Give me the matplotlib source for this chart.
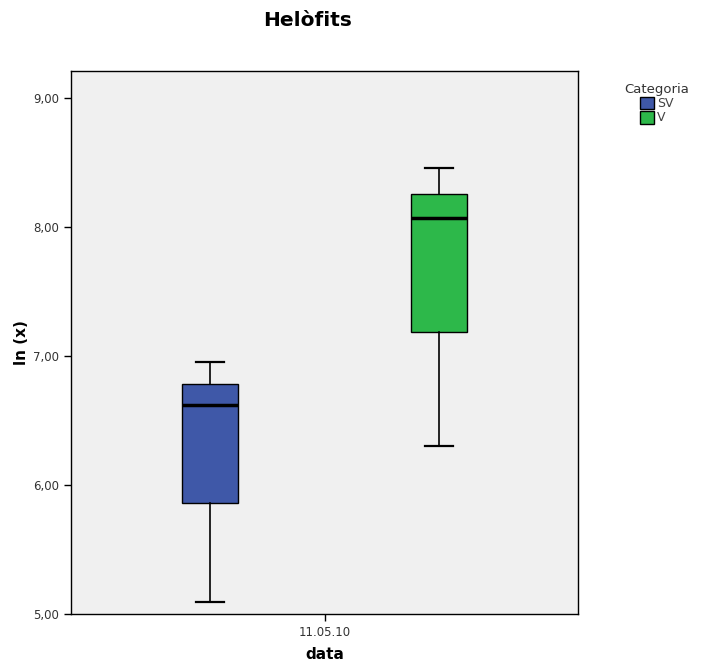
import matplotlib
matplotlib.use("Agg")
import matplotlib.pyplot as plt
from matplotlib.patches import Patch

# ----------------------------
# Data (ln of abundance, five-number summaries)
# ----------------------------
categories = ["SV", "V"]
whisker_low = [5.09, 6.30]
q1 = [5.86, 7.19]
medians = [6.62, 8.07]
q3 = [6.78, 8.26]
whisker_high = [6.95, 8.46]
group_label = "11.05.10"

colors = {"SV": "#3f58a8", "V": "#2db84a"}

# ----------------------------
# Plot
# ----------------------------
fig = plt.figure(figsize=(7.04, 6.67), dpi=100)
ax = fig.add_axes([0.101, 0.0795, 0.72, 0.814])
ax.set_facecolor("#f0f0f0")

stats = []
for i, cat in enumerate(categories):
    stats.append({
        "label": cat,
        "whislo": whisker_low[i],
        "q1": q1[i],
        "med": medians[i],
        "q3": q3[i],
        "whishi": whisker_high[i],
        "fliers": [],
    })

positions = [0.5 - 0.226, 0.5 + 0.226]
bp = ax.bxp(stats, positions=positions, widths=0.109, patch_artist=True,
            showfliers=False,
            boxprops=dict(linewidth=1.0, edgecolor="black"),
            whiskerprops=dict(linewidth=1.2, color="black"),
            capprops=dict(linewidth=1.6, color="black"),
            medianprops=dict(linewidth=2.5, color="black"),
            capwidths=0.055)
for patch, cat in zip(bp["boxes"], categories):
    patch.set_facecolor(colors[cat])

ax.set_xlim(0, 1)
ax.set_ylim(5, 9.21)
ax.set_xticks([0.5])
ax.set_xticklabels([group_label], fontsize=8.5, color="#333333")
ax.set_yticks([5, 6, 7, 8, 9])
ax.set_yticklabels(["5,00", "6,00", "7,00", "8,00", "9,00"], fontsize=8.5,
                   color="#333333")
ax.tick_params(length=5, width=1)

ax.set_xlabel("data", fontsize=11, fontweight="bold", labelpad=6)
ax.set_ylabel("ln (x)", fontsize=11, fontweight="bold", labelpad=3)
fig.suptitle("Helòfits", x=0.4375, y=0.983, fontsize=14.5, fontweight="bold")

for spine in ax.spines.values():
    spine.set_linewidth(1)

handles = [Patch(facecolor=colors[c], edgecolor="black", label=c)
           for c in categories]
leg = fig.legend(handles=handles, title="Categoria", loc="upper left",
                 bbox_to_anchor=(0.878, 0.885), frameon=False, fontsize=9,
                 title_fontsize=9.5, handlelength=1.1, handleheight=1.2,
                 handletextpad=0.2, labelspacing=0.05, borderpad=0)
leg._legend_box.align = "center"
for txt in leg.get_texts():
    txt.set_color("#444444")
leg.get_title().set_color("#333333")

fig.savefig("out.png", dpi=100)
